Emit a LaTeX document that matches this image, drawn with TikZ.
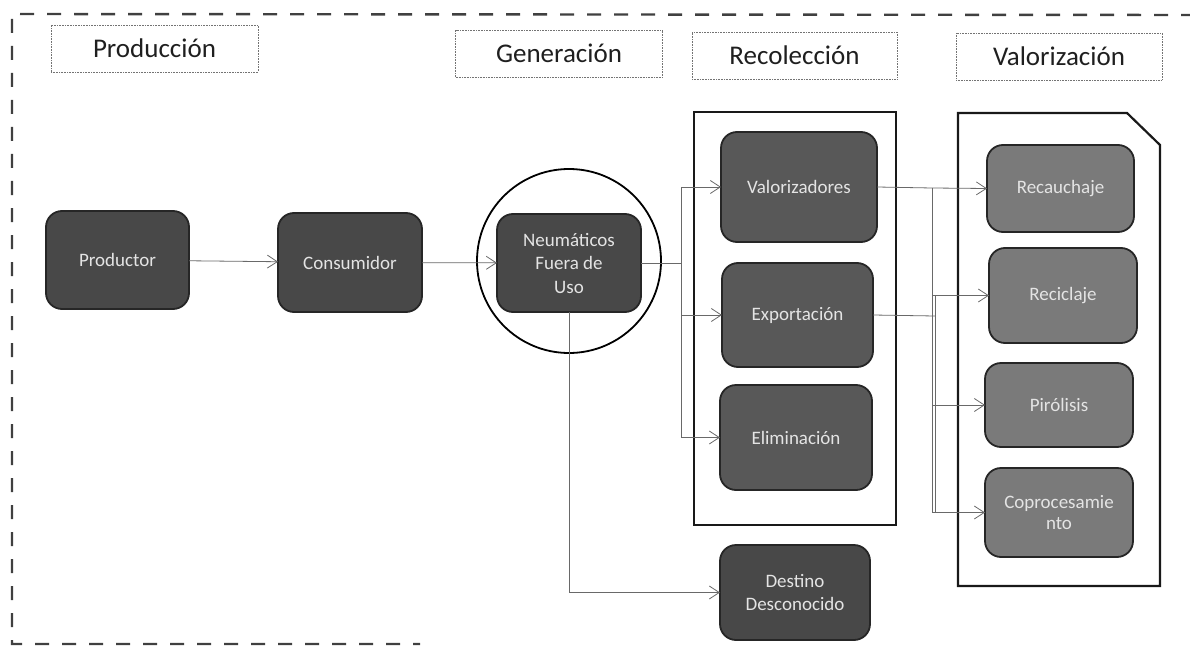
\documentclass[tikz,border=0pt]{standalone}
\usepackage{fontspec}
\setmainfont{Carlito}
\usetikzlibrary{arrows.meta}
\definecolor{darkbox}{RGB}{72,72,72}
\definecolor{midbox}{RGB}{88,88,88}
\definecolor{lightbox}{RGB}{122,122,122}
\definecolor{boxline}{RGB}{38,38,38}
\definecolor{boxtext}{RGB}{228,228,228}
\definecolor{connline}{RGB}{105,105,105}
\tikzset{
  basebox/.style={rectangle, rounded corners=16pt, draw=boxline, line width=1.8pt,
    text=boxtext, align=center, inner sep=2pt, outer sep=0pt,
    font=\fontsize{19}{23.5}\selectfont},
  darkrole/.style={basebox, fill=darkbox},
  midrole/.style={basebox, fill=midbox},
  lightrole/.style={basebox, fill=lightbox},
  header/.style={rectangle, draw=black!55, densely dotted, line width=0.6pt,
    minimum width=207pt, minimum height=47pt, outer sep=0pt,
    font=\fontsize{27}{30}\selectfont, text=black!88},
  container/.style={draw=black!90, line width=2.2pt, line join=miter},
  conn/.style={draw=connline, line width=0.8pt},
  arrowconn/.style={conn, -{Straight Barb[length=10pt,width=13pt,line width=0.8pt]}},
  frameline/.style={draw=black!75, line width=2.4pt, dash pattern=on 14pt off 13pt}
}
\begin{document}
\begin{tikzpicture}[x=1pt,y=-1pt]
\useasboundingbox (0,0) rectangle (1190,647);

% outer dashed frame
\coordinate (ftr) at (1195,15);
\coordinate (ftl) at (12,14);
\coordinate (fbl) at (12,644);
\coordinate (fbr) at (420,644);
\draw[frameline] (ftr) -- (ftl) -- (fbl) -- (fbr);

% headers
\node[header] (hP) at (154.5,48.5) {Producción};
\node[header] (hG) at (559,53.5) {Generación};
\node[header, minimum width=205pt] (hR) at (794.5,55.5) {Recolección};
\node[header, minimum width=206pt] (hV) at (1059,56.5) {Valorización};

% containers
\draw[container] (694,112) rectangle (896,525);
\draw[container] (958,113) -- (1127,113) -- (1160,145) -- (1160,586) -- (958,586) -- cycle;

% main chain
\node[darkrole, minimum width=143pt, minimum height=98pt] (prod) at (117.5,260) {Productor};
\node[darkrole, minimum width=144pt, minimum height=99pt] (cons) at (350,262.5) {Consumidor};
\node[darkrole, minimum width=144pt, minimum height=98pt] (neu) at (569,263) {Neumáticos\\Fuera de\\Uso};
\node[draw=black, line width=1.8pt, circle, minimum size=184pt, inner sep=0pt] (ring) at (569,261) {};

% recoleccion
\node[midrole, minimum width=156pt, minimum height=110pt] (val) at (799,187) {Valorizadores};
\node[midrole, minimum width=151pt, minimum height=104pt] (exp) at (797.5,315) {Exportación};
\node[midrole, minimum width=152pt, minimum height=105pt] (eli) at (796,437.5) {Eliminación};
\node[darkrole, minimum width=150pt, minimum height=95pt] (des) at (795,592.5) {Destino\\Desconocido};

% valorizacion
\node[lightrole, minimum width=147pt, minimum height=87pt] (rcj) at (1060.5,188.5) {Recauchaje};
\node[lightrole, minimum width=148pt, minimum height=95pt] (rci) at (1063,295.5) {Reciclaje};
\node[lightrole, minimum width=148pt, minimum height=84pt] (pir) at (1059,405) {Pirólisis};
\node[lightrole, minimum width=148pt, minimum height=89pt, font=\fontsize{19}{21}\selectfont] (cop) at (1059,512.5) {Coprocesamie\\nto};

% junction points
\coordinate (j1) at (681,263);
\coordinate (j2) at (932,188);
\coordinate (j3) at (935,316);

% connectors
\draw[arrowconn] (prod) -- (cons);
\draw[arrowconn] (cons) -- (neu);
\draw[conn] (neu.east) -- (j1);
\draw[arrowconn] (j1) |- (val.west);
\draw[arrowconn] (j1) |- (exp.west);
\draw[arrowconn] (j1) |- (eli.west);
\draw[arrowconn] (neu.south) |- (des.west);

\draw[conn] (val.east) -- (j2);
\draw[conn] (exp.east) -- (j3);
\draw[arrowconn] (j2) -- (rcj.west);
\draw[arrowconn] (j2) |- (rci.west);
\draw[arrowconn] (j2) |- (pir.west);
\draw[arrowconn] (j2) |- (cop.west);
\draw[conn] (j3) |- (rci.west);
\draw[conn] (j3) |- (cop.west);
\end{tikzpicture}
\end{document}
